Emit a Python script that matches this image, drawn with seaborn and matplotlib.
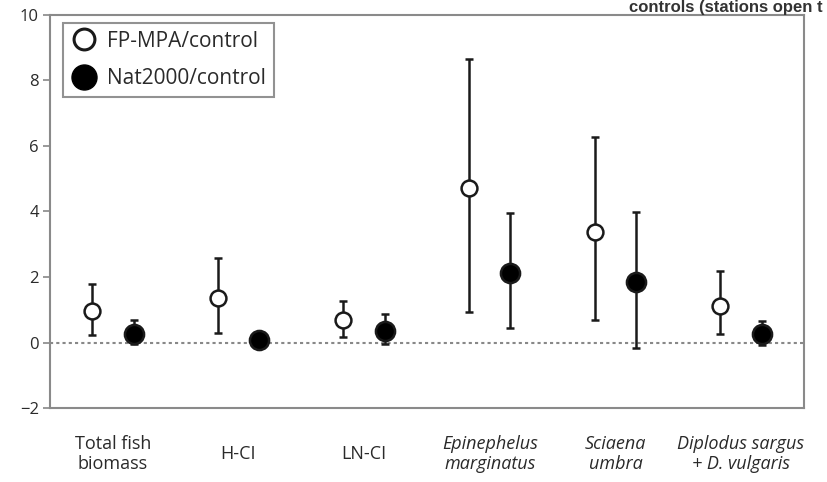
import numpy as np
import pandas as pd
import matplotlib.pyplot as plt
import seaborn as sns
from matplotlib.lines import Line2D

# Ratios (protected/control)
categories = ["Total fish\nbiomass", "H-CI", "LN-CI", "Epinephelus\nmarginatus",
              "Sciaena\numbra", "Diplodus sargus\n+ D. vulgaris"]
italic_cats = [3, 4, 5]

fp_mean = [0.95, 1.37, 0.70, 4.72, 3.38, 1.12]
fp_low = [0.22, 0.29, 0.18, 0.93, 0.69, 0.26]
fp_high = [1.78, 2.58, 1.27, 8.66, 6.28, 2.18]

nat_mean = [0.26, 0.09, 0.35, 2.12, 1.86, 0.27]
nat_low = [-0.06, -0.10, -0.06, 0.44, -0.18, -0.08]
nat_high = [0.70, 0.30, 0.88, 3.95, 3.97, 0.65]

df = pd.DataFrame({
    "cat": categories * 2,
    "group": ["FP-MPA/control"] * 6 + ["Nat2000/control"] * 6,
    "mean": fp_mean + nat_mean,
    "low": fp_low + nat_low,
    "high": fp_high + nat_high,
})
df["pos"] = np.tile(np.arange(6), 2) + np.where(df["group"] == "FP-MPA/control", -0.165, 0.165)

sns.set_style("white")
plt.rcParams["font.family"] = ["Open Sans", "DejaVu Sans"]

fig = plt.figure(figsize=(8.27, 4.82), dpi=100)
ax = fig.add_axes([0.0605, 0.1535, 0.9115, 0.8155])

ax.axhline(0, color="#888888", linestyle=(0, (1.5, 1.5)), linewidth=1.5, zorder=1)

for grp, fc in [("FP-MPA/control", "white"), ("Nat2000/control", "black")]:
    d = df[df["group"] == grp]
    ax.errorbar(d["pos"], d["mean"],
                yerr=[d["mean"] - d["low"], d["high"] - d["mean"]],
                fmt="none", ecolor="#1a1a1a", elinewidth=1.8, capsize=3, capthick=1.8, zorder=2)
    sns.scatterplot(data=d, x="pos", y="mean", ax=ax, s=130 if fc == "white" else 190,
                    marker="o", facecolor=fc, edgecolor="#1a1a1a", linewidth=1.8, zorder=3)

ax.set_xlim(-0.5, 5.5)
ax.set_ylim(-2, 10)
ax.set_yticks(np.arange(-2, 11, 2))
ax.set_yticklabels(["\u22122", "0", "2", "4", "6", "8", "10"])
ax.set_xticks(np.arange(6))
ax.set_xticklabels(categories)
for i, lab in enumerate(ax.get_xticklabels()):
    lab.set_va("center")
    lab.set_linespacing(1.15)
    if i in italic_cats:
        lab.set_style("italic")
ax.set_xlabel("")
ax.set_ylabel("")

ax.tick_params(axis="x", length=0, pad=33, labelsize=13, colors="#2a2a2a")
ax.tick_params(axis="y", length=5, width=1.2, pad=3, labelsize=12, colors="#888888",
               labelcolor="#2a2a2a", left=True)
for sp in ax.spines.values():
    sp.set_color("#8a8a8a")
    sp.set_linewidth(1.5)

handles = [
    Line2D([], [], linestyle="none", marker="o", markersize=15, markerfacecolor="white",
           markeredgecolor="#1a1a1a", markeredgewidth=2.2),
    Line2D([], [], linestyle="none", marker="o", markersize=18, markerfacecolor="black",
           markeredgecolor="black"),
]
leg = ax.legend(handles, ["FP-MPA/control", "Nat2000/control"], loc="upper left",
                bbox_to_anchor=(0.017, 0.98), fontsize=15, frameon=True, fancybox=False,
                labelspacing=0.8, handletextpad=0.45, borderpad=0.38, handlelength=1.3,
                borderaxespad=0)
leg.get_frame().set_edgecolor("#777777")
leg.get_frame().set_linewidth(1.5)
for t in leg.get_texts():
    t.set_color("#2a2a2a")

fig.text(0.995, 1 - 12 / 482, "controls (stations open t", fontsize=12, fontweight="bold",
         family=["Liberation Sans Narrow", "Liberation Sans", "DejaVu Sans"],
         color="#333333", va="baseline", ha="right")

fig.savefig("out.png", dpi=100)
